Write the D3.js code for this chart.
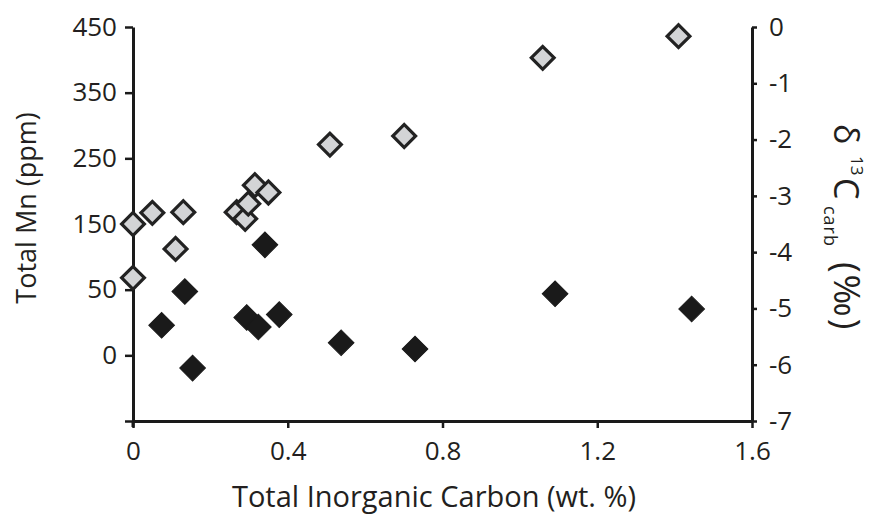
<!DOCTYPE html>
<html>
<head>
<meta charset="utf-8">
<script src="https://cdn.jsdelivr.net/npm/d3@7"></script>
<style>
  body { margin: 0; background: #fff; }
  svg text { font-family: "Open Sans", sans-serif; fill: #231f20; }
</style>
</head>
<body>
<svg id="chart"></svg>
<script>
// DATA
const mnCarbon = [0, 0, 0.05, 0.13, 0.11, 0.268, 0.29, 0.298, 0.315, 0.35, 0.509, 0.701, 1.059, 1.41];
const mnValues = [150, 68, 167, 168, 112, 168, 158, 181, 209, 198, 271, 284, 403, 436];
const d13Carbon = [0.074, 0.134, 0.154, 0.294, 0.324, 0.341, 0.378, 0.538, 0.729, 1.091, 1.444];
const d13Values = [-5.30, -4.70, -6.06, -5.16, -5.33, -3.87, -5.11, -5.61, -5.72, -4.74, -5.01];

const xTicks = [0, 0.4, 0.8, 1.2, 1.6];
const xTickLabels = ['0', '0.4', '0.8', '1.2', '1.6'];
const leftTicks = [450, 350, 250, 150, 50, -50, -150];
const leftTickLabels = ['450', '350', '250', '150', '50', '0', ''];
const rightTicks = [0, -1, -2, -3, -4, -5, -6, -7];

// SET FIGURE
const _canvasWidth = 871, _canvasHeight = 523;
const _plot = {left: 133, right: 752, top: 27, bottom: 421};
const _color = {ink: '#1a1a1a', grey: '#d3d4d6', text: '#231f20'};

let svg = d3.select('#chart')
              .attr('width', _canvasWidth)
              .attr('height', _canvasHeight);

let x = d3.scaleLinear().domain([0, 1.6]).range([_plot.left, _plot.right]);
let yLeft = d3.scaleLinear().domain([-150, 450]).range([_plot.bottom, _plot.top]);
let yRight = d3.scaleLinear().domain([-7, 0]).range([_plot.bottom, _plot.top]);

function styleAxis(g){
    g.select('.domain').attr('stroke', _color.ink).attr('stroke-width', 3);
    g.selectAll('.tick line').attr('stroke', _color.ink).attr('stroke-width', 2.5);
    g.selectAll('.tick text').attr('font-size', 26).attr('fill', _color.text);
}

// X AXIS
svg.append('g')
      .attr('transform', `translate(0, ${_plot.bottom})`)
      .call(d3.axisBottom(x).tickValues(xTicks).tickFormat((d, i) => xTickLabels[i]).tickSize(7).tickSizeOuter(0).tickPadding(14))
      .call(styleAxis);

// LEFT AXIS (runs a little past the x axis, as in the original)
svg.append('line')
      .attr('x1', _plot.left).attr('x2', _plot.left)
      .attr('y1', _plot.bottom).attr('y2', _plot.bottom + 6)
      .attr('stroke', _color.ink)
      .attr('stroke-width', 3);
svg.append('g')
      .attr('transform', `translate(${_plot.left}, 0)`)
      .call(d3.axisLeft(yLeft).tickValues(leftTicks).tickFormat((d, i) => leftTickLabels[i]).tickSize(8).tickSizeOuter(0).tickPadding(8))
      .call(styleAxis);

// RIGHT AXIS
svg.append('g')
      .attr('transform', `translate(${_plot.right}, 0)`)
      .call(d3.axisRight(yRight).tickValues(rightTicks).tickFormat(d => d === 0 ? '0' : '-' + Math.abs(d)).tickSize(5).tickSizeOuter(0).tickPadding(12))
      .call(styleAxis);

// TITLES
svg.append('text')
      .attr('x', 434)
      .attr('y', 507)
      .attr('text-anchor', 'middle')
      .attr('font-size', 29)
      .text('Total Inorganic Carbon (wt. %)');

svg.append('text')
      .attr('transform', `translate(36, 208) rotate(-90)`)
      .attr('text-anchor', 'middle')
      .attr('font-size', 27)
      .text('Total Mn (ppm)');

// rotated frame: x runs down the page, negative y points right
let rightTitle = svg.append('text')
      .attr('transform', `translate(834, 124) rotate(90)`)
      .attr('font-size', 33);
    rightTitle.append('tspan').attr('x', 0).attr('y', 0).attr('font-size', 34).text('δ');
    rightTitle.append('tspan').attr('x', 32).attr('y', -17).attr('font-size', 17).text('13');
    rightTitle.append('tspan').attr('x', 54).attr('y', 0).attr('font-size', 34).text('C');
    rightTitle.append('tspan').attr('x', 82).attr('y', 10).attr('font-size', 18).attr('letter-spacing', 1).text('carb');
    rightTitle.append('tspan').attr('x', 138).attr('y', 0).attr('font-size', 36).attr('letter-spacing', 2).text('(‰)');

// POINTS
const diamond = d3.symbol().type(d3.symbolSquare).size(330);

svg.append('g')
      .selectAll('path')
      .data(d3.zip(d13Carbon, d13Values))
      .enter()
    .append('path')
      .attr('d', diamond)
      .attr('transform', d => `translate(${x(d[0])}, ${yRight(d[1])}) rotate(45)`)
      .attr('fill', _color.ink)
      .attr('stroke', _color.ink)
      .attr('stroke-width', 1);

svg.append('g')
      .selectAll('path')
      .data(d3.zip(mnCarbon, mnValues))
      .enter()
    .append('path')
      .attr('d', d3.symbol().type(d3.symbolSquare).size(260))
      .attr('transform', d => `translate(${x(d[0])}, ${yLeft(d[1])}) rotate(45)`)
      .attr('fill', _color.grey)
      .attr('stroke', '#222')
      .attr('stroke-width', 3.2);
</script>
</body>
</html>
